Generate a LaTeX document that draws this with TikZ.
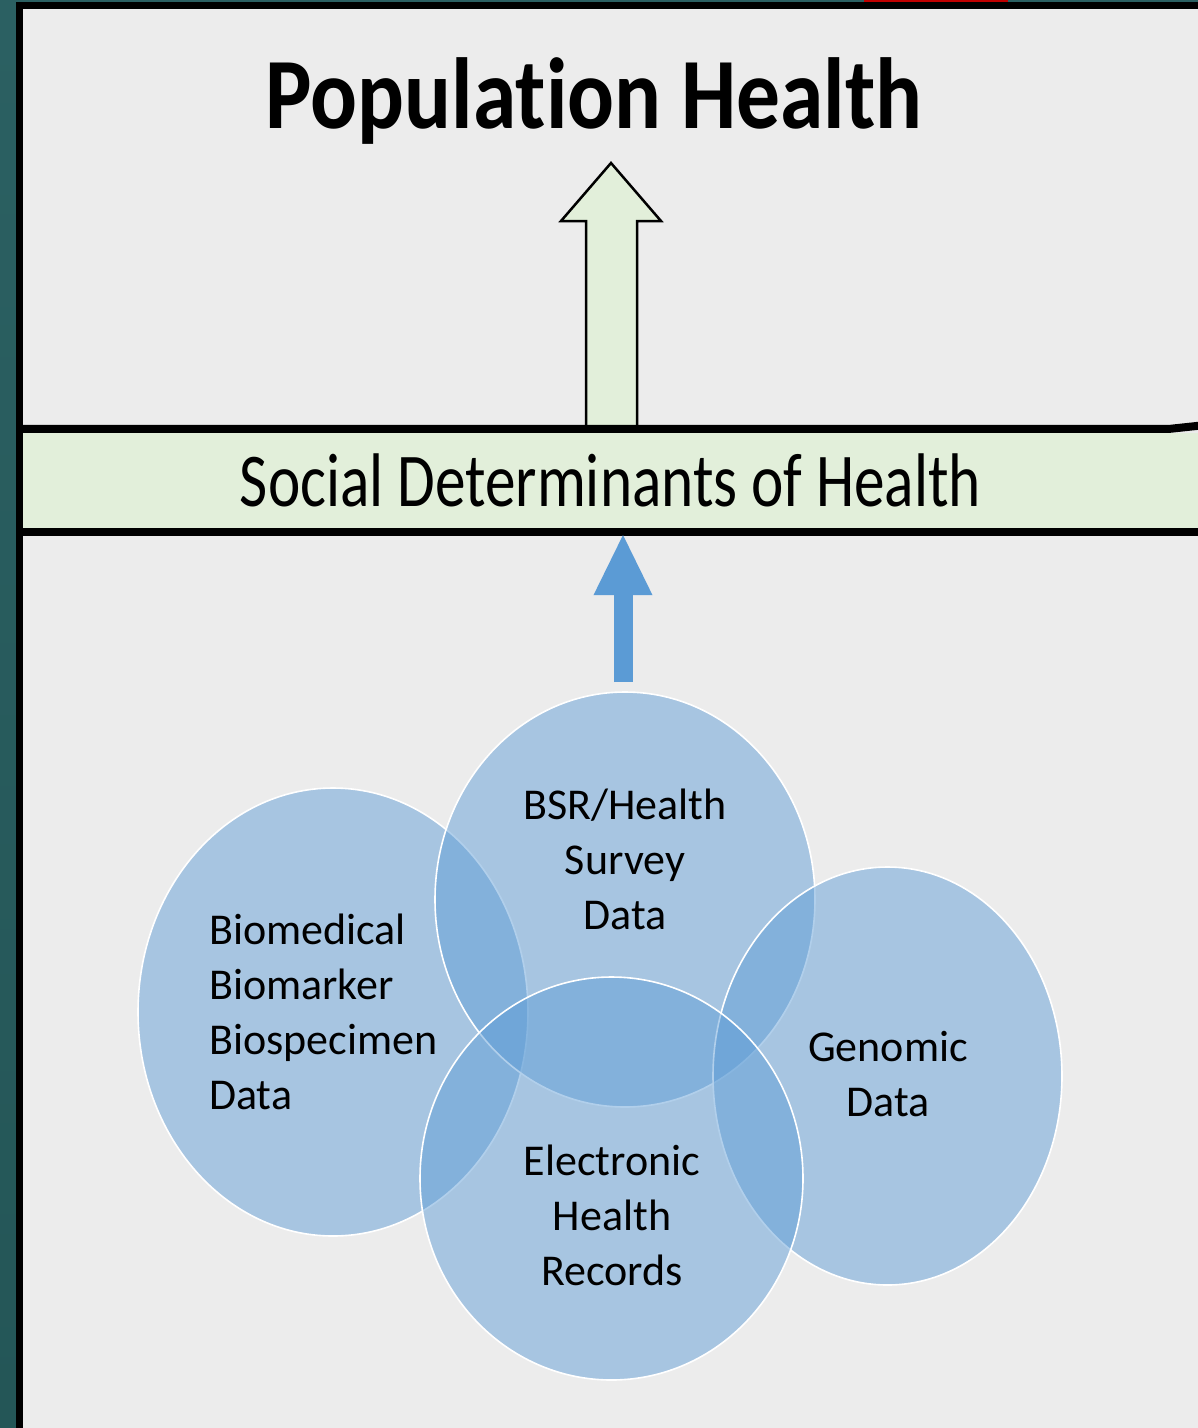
\documentclass[tikz,border=0pt]{standalone}
\usepackage{fontspec}
\setmainfont{Carlito}[Ligatures=NoCommon]
\usetikzlibrary{arrows.meta, shapes.geometric}

\definecolor{fondo}{HTML}{ECECEC}
\definecolor{verdeclaro}{HTML}{E2EFDA}
\definecolor{azul}{HTML}{5B9BD5}
\definecolor{tealtop}{HTML}{2B6062}
\definecolor{tealmid}{HTML}{3C7B6F}
\definecolor{tealbot}{HTML}{245657}
\definecolor{rojo}{HTML}{C00000}

\tikzset{
  blob/.style={ellipse, fill=azul, fill opacity=0.47, draw=white, line width=1.6pt, inner sep=0pt},
  lbl/.style={font=\fontsize{44}{55}\selectfont, align=center, inner sep=0pt},
  raya/.style={line width=8pt},
}

\begin{document}
\begin{tikzpicture}[x=1pt, y=-1pt]
\useasboundingbox (0,0) rectangle (1198,1428);
%% Fondo y marco %%%%%%%%%%%%%%%%%%%%%%%%%%%
\shade[top color=tealtop, middle color=tealmid, bottom color=tealbot] (0,0) rectangle (16,1428);
\fill[tealtop] (16,0) rectangle (1198,2);
\fill[rojo] (864,0) rectangle (1008,1.5);
\fill[fondo] (23,9) rectangle (1198,1428);
\draw[line width=7pt] (19.5,1428) -- (19.5,5) -- (1198,5);

%% Titulo
\node[font=\fontsize{101}{110}\selectfont\bfseries, anchor=base] (titulo) at (594,128)
  {\scalebox{0.866}[1]{Population Health}};

%% Franja verde %%%%%%%%%%%%%%%%%%%%%%%%%%%%%
\node[fill=verdeclaro, minimum width=1175, minimum height=95, inner sep=0pt,
      font=\fontsize{76}{80}\selectfont] (sdoh) at (610.5,480.5)
  {\scalebox{0.806}[1]{Social Determinants of Health}};

%% Flecha hueca hacia arriba
\def\fx{611}  % eje de la flecha
\draw[fill=verdeclaro, line width=2.5pt, line join=miter]
  (\fx-25,429) -- (\fx-25,221) -- (\fx-50,221) -- (\fx,163) -- (\fx+50,221) -- (\fx+26,221) -- (\fx+26,429);

%% bordes de la franja (por encima de la flecha)
\draw[raya] ([xshift=-4pt,yshift=4pt]sdoh.north west) -- ([xshift=-28pt,yshift=4pt]sdoh.north east)
            -- ([yshift=7pt]sdoh.north east);
\draw[raya] ([xshift=-4pt,yshift=-4pt]sdoh.south west) -- ([yshift=-4pt]sdoh.south east);

%% Circulos de datos %%%%%%%%%%%%%%%%%%%%%%%%
\node[blob, minimum width=390, minimum height=448] (bio)  at (333,1012) {};
\node[blob, minimum width=380, minimum height=415] (bsr)  at (625,899.5) {};
\node[blob, minimum width=349, minimum height=418] (geno) at (887.5,1076) {};
\node[blob, minimum width=383, minimum height=403] (ehr)  at (611.5,1178.5) {};

\node[lbl, align=left, anchor=west] (biotxt) at (209,1012) {Biomedical\\Biomarker\\Biospecimen\\Data};
\node[lbl] (bsrtxt)  at (625,859)  {BSR/Health\\Survey\\Data};
\node[lbl] (genotxt) at (888,1074) {Genomic\\Data};
\node[lbl] (ehrtxt)  at (612,1215) {Electronic\\Health\\Records};

%% Flecha azul
\draw[azul, line width=19pt, -{Triangle[width=54pt, length=62pt]}]
  ([xshift=-2pt,yshift=9pt]bsr.north) -- ([xshift=-2pt,yshift=-5pt]bsr.north |- sdoh.south);
\end{tikzpicture}
\end{document}
